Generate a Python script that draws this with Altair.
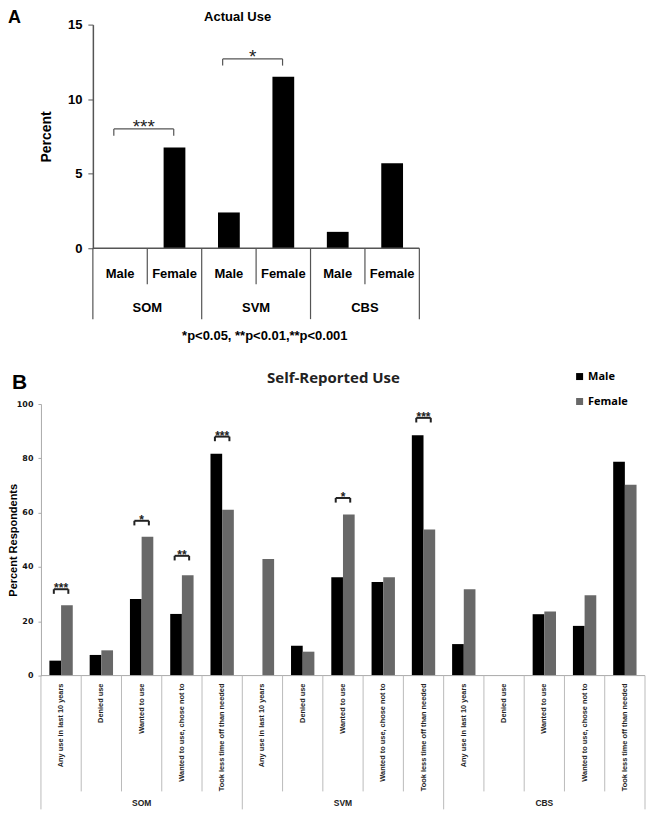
import altair as alt
import pandas as pd

# ---------------- Panel A: Actual Use ----------------
a_groups = ["SOM", "SVM", "CBS"]
a_sexes = ["Male", "Female"]
a_values = [0.0, 6.75, 2.4, 11.5, 1.1, 5.7]  # SOM M/F, SVM M/F, CBS M/F
a_sig_groups = ["SOM", "SVM"]
a_sig_stars = ["***", "*"]
a_sig_level = [8.0, 12.7]
a_title = "Actual Use"
a_footnote = "*p<0.05, **p<0.01,**p<0.001"

# ---------------- Panel B: Self-Reported Use ----------------
b_groups = ["SOM", "SVM", "CBS"]
b_items = ["Any use in last 10 years", "Denied use", "Wanted to use",
           "Wanted to use, chose not to", "Took less time off than needed"]
b_male = [5.5, 7.6, 28.2, 22.7, 81.7, 0.0, 11.0, 36.2, 34.5, 88.5, 11.6, 0.0, 22.6, 18.3, 78.7]
b_female = [25.9, 9.3, 51.1, 36.9, 61.1, 42.9, 8.8, 59.3, 36.2, 53.8, 31.8, 0.0, 23.6, 29.6, 70.3]
b_sig_index = [0, 2, 3, 4, 7, 9]
b_sig_stars = ["***", "*", "**", "***", "*", "***"]
b_sig_level = [31.8, 57.0, 44.1, 88.0, 65.4, 94.9]
b_title = "Self-Reported Use"

ARIAL = "Liberation Sans, Arial, sans-serif"
CALIBRI = "Open Sans, Lato, sans-serif"

# ======== Panel A ========
WA, HA = 379, 224
A_OFF = 52
SLOT_A = (WA - A_OFF) / 6
xA = alt.Scale(domain=[-A_OFF / SLOT_A, 6], nice=False, zero=False)
yA = alt.Scale(domain=[0, 15], nice=False, zero=True)
axA = alt.Axis(
    values=[0, 5, 10, 15], offset=-A_OFF, grid=False,
    labelFont=ARIAL, labelFontSize=13, labelFontWeight="bold", labelColor="black",
    tickSize=5, tickColor="#555", domainColor="#555", domainWidth=1.5, labelPadding=6,
    title="Percent", titleFont=ARIAL, titleFontSize=14, titleFontWeight="bold",
    titleColor="black", titleAngle=270, titleX=-46, titleY=HA / 2,
    titleAlign="center", titleBaseline="middle")

dfA = pd.DataFrame({
    "group": [g for g in a_groups for _ in a_sexes],
    "sex": a_sexes * len(a_groups),
    "value": a_values,
})
dfA["slot"] = range(len(dfA))
dfA["x0"] = dfA["slot"] + 0.3
dfA["x1"] = dfA["slot"] + 0.7
dfA["xc"] = dfA["slot"] + 0.5
dfA["base"] = 0.0

barsA = alt.Chart(dfA).mark_bar(color="black").encode(
    x=alt.X("x0:Q", scale=xA, axis=None),
    x2="x1",
    y=alt.Y("value:Q", scale=yA, axis=axA),
    y2="base",
)

baseA = alt.Chart(pd.DataFrame({"x0": [0], "x1": [6], "value": [0]})).mark_rule(
    color="#555", strokeWidth=1.5).encode(
    x=alt.X("x0:Q", scale=xA, axis=None), x2="x1",
    y=alt.Y("value:Q", scale=yA, axis=axA))

sepA = pd.DataFrame({"pos": list(range(7))})
sepA["value"] = 0.0
sepA_short = alt.Chart(sepA[sepA["pos"] % 2 == 1]).mark_rule(color="#555", strokeWidth=1.2).encode(
    x=alt.X("pos:Q", scale=xA, axis=None), y=alt.Y("value:Q", scale=yA, axis=axA),
    y2=alt.value(260))
sepA_long = alt.Chart(sepA[sepA["pos"] % 2 == 0]).mark_rule(color="#555", strokeWidth=1.2).encode(
    x=alt.X("pos:Q", scale=xA, axis=None), y=alt.Y("value:Q", scale=yA, axis=axA),
    y2=alt.value(295))

sexLabA = alt.Chart(dfA).mark_text(font=ARIAL, fontSize=13, fontWeight="bold",
                                   color="black", baseline="alphabetic").encode(
    x=alt.X("xc:Q", scale=xA, axis=None), y=alt.value(254), text="sex:N")

grpA = pd.DataFrame({"group": a_groups, "xc": [2 * k + 1 for k in range(len(a_groups))]})
grpLabA = alt.Chart(grpA).mark_text(font=ARIAL, fontSize=13, fontWeight="bold",
                                    color="black", baseline="alphabetic").encode(
    x=alt.X("xc:Q", scale=xA, axis=None), y=alt.value(288), text="group:N")

footA = alt.Chart(pd.DataFrame({"t": [a_footnote], "xc": [3.16]})).mark_text(
    font=ARIAL, fontSize=13, fontWeight="bold", color="black", baseline="alphabetic").encode(
    x=alt.X("xc:Q", scale=xA, axis=None), y=alt.value(316), text="t:N")

brA = pd.DataFrame({"group": a_sig_groups, "stars": a_sig_stars, "value": a_sig_level})
brA["gi"] = [a_groups.index(g) for g in brA["group"]]
brA["x0"] = brA["gi"] * 2 + 0.385
brA["x1"] = brA["gi"] * 2 + 1.486
brA["xc"] = (brA["x0"] + brA["x1"]) / 2
brA["low"] = brA["value"] - 0.45
brA_h = alt.Chart(brA).mark_rule(color="#555", strokeWidth=1.2).encode(
    x=alt.X("x0:Q", scale=xA, axis=None), x2="x1", y=alt.Y("value:Q", scale=yA, axis=axA))
brA_v = alt.Chart(brA).transform_fold(["x0", "x1"], as_=["end", "xe"]).mark_rule(
    color="#555", strokeWidth=1.2).encode(
    x=alt.X("xe:Q", scale=xA, axis=None), y=alt.Y("value:Q", scale=yA, axis=axA), y2="low")
starA = alt.Chart(brA).mark_text(font=ARIAL, fontSize=19, color="#222",
                                 baseline="alphabetic", dy=4).encode(
    x=alt.X("xc:Q", scale=xA, axis=None), y=alt.Y("value:Q", scale=yA, axis=axA), text="stars:N")

letterA = alt.Chart(pd.DataFrame({"t": ["A"]})).mark_text(
    font=ARIAL, fontSize=18, fontWeight="bold", color="black", align="left",
    baseline="alphabetic").encode(x=alt.value(-33), y=alt.value(-2), text="t:N")
titleA = alt.Chart(pd.DataFrame({"t": [a_title]})).mark_text(
    font=ARIAL, fontSize=13, fontWeight="bold", color="black", align="center",
    baseline="alphabetic").encode(x=alt.value(197), y=alt.value(-4), text="t:N")

chartA = alt.layer(barsA, baseA, sepA_short, sepA_long, brA_h, brA_v, starA,
                   sexLabA, grpLabA, footA, letterA, titleA).properties(width=WA, height=HA)

# ======== Panel B ========
WB, HB = 605, 272
GAP = 156
NB = len(b_groups) * len(b_items)
xB = alt.Scale(domain=[0, NB], nice=False, zero=False)
yB = alt.Scale(domain=[0, 100], nice=False, zero=True)
axB = alt.Axis(
    values=[0, 20, 40, 60, 80, 100], grid=False,
    labelFont="DejaVu Sans, sans-serif", labelFontSize=8, labelFontWeight="bold",
    labelColor="#111", tickSize=3, tickColor="#aaa", domainColor="#aaa", labelPadding=5,
    title="Percent Respondents", titleFont=ARIAL, titleFontSize=11, titleFontWeight="bold",
    titleColor="black", titleAngle=270, titleX=-27, titleY=HB / 2,
    titleAlign="center", titleBaseline="middle")

rows = []
for i in range(NB):
    rows.append({"slot": i, "sex": "Male", "value": b_male[i], "x0": i + 0.21, "x1": i + 0.5})
    rows.append({"slot": i, "sex": "Female", "value": b_female[i], "x0": i + 0.5, "x1": i + 0.79})
dfB = pd.DataFrame(rows)
dfB["base"] = 0.0

barsB = alt.Chart(dfB).mark_bar().encode(
    x=alt.X("x0:Q", scale=xB, axis=None),
    x2="x1",
    y=alt.Y("value:Q", scale=yB, axis=axB),
    y2="base",
    color=alt.Color("sex:N", scale=alt.Scale(domain=["Male", "Female"], range=["#000000", "#686868"]),
                    legend=alt.Legend(orient="none", legendX=534, legendY=HA + GAP - 33, title=None,
                                      symbolType="square", symbolSize=49, symbolStrokeWidth=0,
                                      labelFont=CALIBRI, labelFontSize=11, labelFontWeight="bold",
                                      labelColor="black", rowPadding=13, labelOffset=3, padding=0)),
)

baseB = alt.Chart(pd.DataFrame({"x0": [0], "x1": [NB], "value": [0]})).mark_rule(
    color="#aaa", strokeWidth=1).encode(
    x=alt.X("x0:Q", scale=xB, axis=None), x2="x1", y=alt.Y("value:Q", scale=yB, axis=axB))

sepB = pd.DataFrame({"pos": list(range(NB + 1))})
sepB["value"] = 0.0
nI = len(b_items)
sepB_short = alt.Chart(sepB[sepB["pos"] % nI != 0]).mark_rule(color="#bbb", strokeWidth=1).encode(
    x=alt.X("pos:Q", scale=xB, axis=None), y=alt.Y("value:Q", scale=yB, axis=axB),
    y2=alt.value(388))
sepB_long = alt.Chart(sepB[sepB["pos"] % nI == 0]).mark_rule(color="#bbb", strokeWidth=1).encode(
    x=alt.X("pos:Q", scale=xB, axis=None), y=alt.Y("value:Q", scale=yB, axis=axB),
    y2=alt.value(406))

itB = pd.DataFrame({"item": b_items * len(b_groups)})
itB["xc"] = [i + 0.5 for i in range(NB)]
itLabB = alt.Chart(itB).mark_text(font=ARIAL, fontSize=7.4, fontWeight="bold", color="#222",
                                  angle=270, align="right", baseline="middle").encode(
    x=alt.X("xc:Q", scale=xB, axis=None), y=alt.value(280), text="item:N")

grpB = pd.DataFrame({"group": b_groups, "xc": [nI * k + nI / 2 for k in range(len(b_groups))]})
grpLabB = alt.Chart(grpB).mark_text(font=ARIAL, fontSize=8.5, fontWeight="bold", color="#222",
                                    baseline="alphabetic").encode(
    x=alt.X("xc:Q", scale=xB, axis=None), y=alt.value(403), text="group:N")

brB = pd.DataFrame({"slot": b_sig_index, "stars": b_sig_stars, "value": b_sig_level})
brB["x0"] = brB["slot"] + 0.5 - 0.18
brB["x1"] = brB["slot"] + 0.5 + 0.18
brB["xc"] = brB["slot"] + 0.5
brB["low"] = brB["value"] - 1.7
brB_h = alt.Chart(brB).mark_rule(color="#222", strokeWidth=2).encode(
    x=alt.X("x0:Q", scale=xB, axis=None), x2="x1", y=alt.Y("value:Q", scale=yB, axis=axB))
brB_v = alt.Chart(brB).transform_fold(["x0", "x1"], as_=["end", "xe"]).mark_rule(
    color="#222", strokeWidth=2).encode(
    x=alt.X("xe:Q", scale=xB, axis=None), y=alt.Y("value:Q", scale=yB, axis=axB), y2="low")
starB = alt.Chart(brB).mark_text(font=ARIAL, fontSize=12, fontWeight="bold", color="#222",
                                 baseline="alphabetic", dy=3).encode(
    x=alt.X("xc:Q", scale=xB, axis=None), y=alt.Y("value:Q", scale=yB, axis=axB), text="stars:N")

letterB = alt.Chart(pd.DataFrame({"t": ["B"]})).mark_text(
    font=ARIAL, fontSize=21, fontWeight="bold", color="black", align="left",
    baseline="alphabetic").encode(x=alt.value(-29), y=alt.value(-15), text="t:N")
titleB = alt.Chart(pd.DataFrame({"t": [b_title]})).mark_text(
    font=CALIBRI, fontSize=15, fontWeight="bold", color="#222", align="center",
    baseline="alphabetic").encode(x=alt.value(293), y=alt.value(-21), text="t:N")

chartB = alt.layer(barsB, baseB, sepB_short, sepB_long, brB_h, brB_v, starB,
                   itLabB, grpLabB, letterB, titleB).properties(width=WB, height=HB)

chart = alt.vconcat(chartA, chartB, spacing=GAP, bounds="flush").properties(
    padding=0, background="white"
).configure_view(stroke=None)

chart.save("out.html", embed_options={"renderer": "svg", "actions": False})
